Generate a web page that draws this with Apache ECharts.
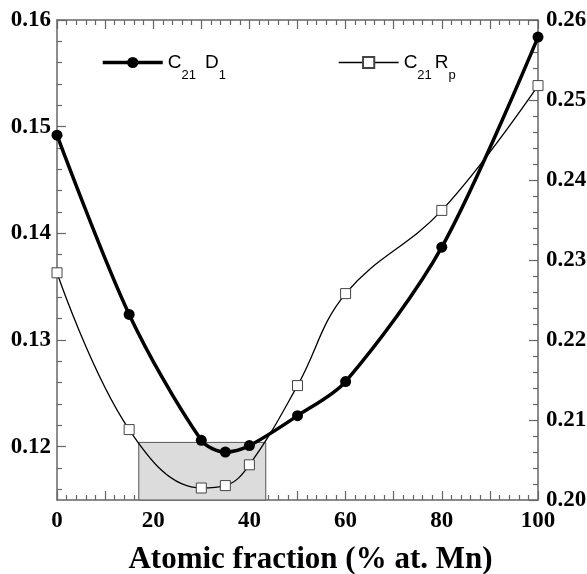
<!DOCTYPE html>
<html>
<head>
<meta charset="utf-8">
<script src="https://cdn.jsdelivr.net/npm/echarts@6/dist/echarts.min.js"></script>
<style>html,body{margin:0;padding:0;background:#fff;}#c{width:587px;height:574px;}</style>
</head>
<body>
<div id="c"></div>
<script>
// ---- data ----
const xValues = [0, 15, 30, 35, 40, 50, 60, 80, 100];
const d1Values = [0.1492, 0.1324, 0.1206, 0.1195, 0.1201, 0.1229, 0.1261, 0.1387, 0.1584];
const rpValues = [0.2284, 0.2088, 0.2015, 0.2018, 0.2044, 0.2143, 0.2258, 0.2362, 0.2518];
const leftLabels = [0.12, 0.13, 0.14, 0.15, 0.16];
const leftMinorTicks = [0.116, 0.118, 0.122, 0.124, 0.126, 0.128, 0.132, 0.134, 0.136, 0.138,
  0.142, 0.144, 0.146, 0.148, 0.152, 0.154, 0.156, 0.158];
const rightLabels = [0.20, 0.21, 0.22, 0.23, 0.24, 0.25, 0.26];
const xLabels = [0, 20, 40, 60, 80, 100];
const shadeX = [17, 43.4];
const shadeTop = 0.1204;
const seriesNames = ['C21 D1', 'C21 Rp'];

const axisColor = '#666';
const tickFont = {fontFamily: 'Liberation Serif', fontWeight: 'bold', fontSize: 23, color: '#000'};

const d1Data = xValues.map((x, i) => [x, d1Values[i]]);
const rpData = xValues.map((x, i) => [x, rpValues[i]]);

const chart = echarts.init(document.getElementById('c'), null, {renderer: 'canvas'});

const legendRich = {
  m: {fontFamily: 'Liberation Sans', fontSize: 19, color: '#000', lineHeight: 40, verticalAlign: 'middle'},
  s: {fontFamily: 'Liberation Sans', fontSize: 13, color: '#000', verticalAlign: 'middle', padding: [25, 0, 0, 0]},
  sa: {fontFamily: 'Liberation Sans', fontSize: 13, color: '#000', verticalAlign: 'middle', padding: [25, 9, 0, 0]},
  sb: {fontFamily: 'Liberation Sans', fontSize: 13, color: '#000', verticalAlign: 'middle', padding: [25, 3, 0, 0]}
};

function legendFmt(name) {
  if (name === seriesNames[0]) return '{m|C}{sa|21}{m|D}{s|1}';
  return '{m|C}{sb|21}{m|R}{s|p}';
}

const xAxisBase = {
  type: 'value', min: 0, max: 100, interval: 10,
  axisLine: {show: true, onZero: false, lineStyle: {color: axisColor, width: 1.5}},
  axisTick: {show: true, inside: true, length: 9, lineStyle: {color: axisColor, width: 1.2}},
  minorTick: {show: true, splitNumber: 5, length: 5, lineStyle: {color: axisColor, width: 1.2}},
  splitLine: {show: false}, minorSplitLine: {show: false}
};

const option = {
  animation: false,
  backgroundColor: '#fff',
  grid: {left: 57, right: 49, top: 20, bottom: 74, containLabel: false, outerBoundsMode: 'none'},
  legend: [
    {data: [seriesNames[0]], left: 101, top: 53, padding: 0, itemWidth: 60, itemHeight: 14, itemGap: 5,
      lineStyle: {width: 3.5, color: '#000'}, itemStyle: {color: '#000'},
      formatter: legendFmt, textStyle: {rich: legendRich}, selectedMode: false},
    {data: [seriesNames[1]], left: 338, top: 53, padding: 0, itemWidth: 60, itemHeight: 14, itemGap: 5,
      lineStyle: {width: 1.3, color: '#000'},
      formatter: legendFmt, textStyle: {rich: legendRich}, selectedMode: false}
  ],
  xAxis: [
    Object.assign({}, xAxisBase, {
      position: 'bottom',
      axisLabel: Object.assign({show: true, margin: 10, customValues: xLabels,
        formatter: v => String(Math.round(v))}, tickFont),
      name: 'Atomic fraction (% at. Mn)', nameLocation: 'middle', nameGap: 44,
      nameTextStyle: {fontFamily: 'Liberation Serif', fontWeight: 'bold', fontSize: 31, color: '#000', padding: [0, 0, 0, 26]}
    }),
    Object.assign({}, xAxisBase, {position: 'top', axisLabel: {show: false}})
  ],
  yAxis: [
    {
      type: 'value', position: 'left', min: 0.115, max: 0.16,
      axisLine: {show: true, onZero: false, lineStyle: {color: axisColor, width: 1.5}},
      axisTick: {show: true, inside: true, length: 9, customValues: leftLabels, lineStyle: {color: axisColor, width: 1.2}},
      axisLabel: Object.assign({show: true, margin: 6, customValues: leftLabels, formatter: v => v.toFixed(2)}, tickFont),
      splitLine: {show: false}
    },
    {
      type: 'value', position: 'left', min: 0.115, max: 0.16,
      axisLine: {show: false},
      axisTick: {show: true, inside: true, length: 5, customValues: leftMinorTicks, lineStyle: {color: axisColor, width: 1.2}},
      axisLabel: {show: false},
      splitLine: {show: false}
    },
    {
      type: 'value', position: 'right', min: 0.2, max: 0.26, interval: 0.01,
      axisLine: {show: true, onZero: false, lineStyle: {color: axisColor, width: 1.5}},
      axisTick: {show: true, inside: true, length: 9, lineStyle: {color: axisColor, width: 1.2}},
      minorTick: {show: true, splitNumber: 5, length: 5, lineStyle: {color: axisColor, width: 1.2}},
      axisLabel: Object.assign({show: true, margin: 8, customValues: rightLabels, formatter: v => v.toFixed(2)}, tickFont),
      splitLine: {show: false}, minorSplitLine: {show: false}
    }
  ],
  series: [
    {
      name: seriesNames[1], type: 'line', xAxisIndex: 0, yAxisIndex: 2, data: rpData,
      smooth: 0.4, symbol: 'rect', symbolSize: 10, z: 3,
      lineStyle: {color: '#000', width: 1.3},
      itemStyle: {color: '#fff', borderColor: '#444', borderWidth: 1}
    },
    {
      name: seriesNames[0], type: 'line', xAxisIndex: 0, yAxisIndex: 0, data: d1Data,
      smooth: 0.3, symbol: 'circle', symbolSize: 11, z: 4,
      lineStyle: {color: '#000', width: 3.5},
      itemStyle: {color: '#000'},
      markArea: {
        silent: true, z: 1,
        itemStyle: {color: '#dcdcdc', borderColor: '#555', borderWidth: 1, opacity: 1},
        label: {show: false},
        data: [[{xAxis: shadeX[0], yAxis: 0.115}, {xAxis: shadeX[1], yAxis: shadeTop}]]
      }
    }
  ]
};
chart.setOption(option);
</script>
</body>
</html>
